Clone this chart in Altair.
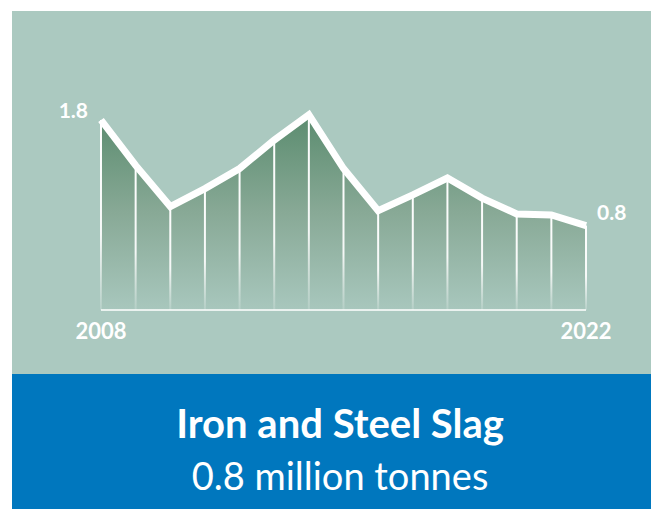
import altair as alt
import pandas as pd

# ---- data ----
years = list(range(2008, 2023))
values = [1.80, 1.37, 0.98, 1.15, 1.34, 1.61, 1.85, 1.34, 0.94, 1.09, 1.25, 1.06, 0.91, 0.90, 0.80]
title_text = "Iron and Steel Slag"
subtitle_text = "0.8 million tonnes"

SAGE = "#abc9c0"
BLUE = "#0077be"
FONT = "Lato"

df = pd.DataFrame({"year": years, "value": values})
df["label"] = df["year"].astype(str)
ends = df.iloc[[0, -1]].copy()
first = df.iloc[[0]].copy()
last = df.iloc[[-1]].copy()
base = pd.DataFrame({"x1": [years[0]], "x2": [years[-1]], "y": [0]})
one = pd.DataFrame({"k": [0]})
titles = pd.DataFrame({"t": [title_text], "s": [subtitle_text]})

W, H = 643, 501

xs = alt.Scale(domain=[years[0], years[-1]], range=[93, 578], padding=0, nice=False, zero=False)
ys = alt.Scale(domain=[0, 1.8], range=[302, 112], nice=False, zero=False, padding=0)
X = alt.X("year:Q", scale=xs, axis=None)
Y = alt.Y("value:Q", scale=ys, axis=None)

panel_top = alt.Chart(one).mark_rect(color=SAGE).encode(
    x=alt.value(4), x2=alt.value(W), y=alt.value(3), y2=alt.value(366)
)
panel_bot = alt.Chart(one).mark_rect(color=BLUE).encode(
    x=alt.value(4), x2=alt.value(W), y=alt.value(366), y2=alt.value(H)
)

area_grad = alt.Gradient(
    gradient="linear",
    stops=[alt.GradientStop(color="#5b8c6f", offset=0),
           alt.GradientStop(color="#88a996", offset=0.5),
           alt.GradientStop(color="#a8c7bd", offset=1)],
    x1=0, x2=0, y1=0, y2=1,
)
area = alt.Chart(df).mark_area(color=area_grad, interpolate="linear").encode(
    x=X, y=Y, y2=alt.datum(0)
)

white_grad = alt.Gradient(
    gradient="linear",
    stops=[alt.GradientStop(color="rgba(255,255,255,1)", offset=0),
           alt.GradientStop(color="rgba(255,255,255,0.9)", offset=0.6),
           alt.GradientStop(color="rgba(255,255,255,0.15)", offset=1)],
    x1=0, x2=0, y1=0, y2=1,
)
rules = alt.Chart(df).mark_bar(size=2, color=white_grad, orient="vertical").encode(
    x=X, y=Y, y2=alt.datum(0)
)

baseline = alt.Chart(base).mark_rule(color="white", strokeWidth=1.5).encode(
    x=alt.X("x1:Q", scale=xs, axis=None), x2="x2:Q",
    y=alt.Y("y:Q", scale=ys, axis=None)
)

line = alt.Chart(df).mark_line(
    color="white", strokeWidth=7, strokeJoin="miter", strokeCap="butt"
).encode(x=X, y=Y)

lab_first = alt.Chart(first).mark_text(
    font=FONT, fontSize=21, fontWeight="bold", color="white",
    align="right", baseline="alphabetic", dx=-13, dy=-2
).encode(x=X, y=Y, text=alt.Text("value:Q", format=".1f"))

lab_last = alt.Chart(last).mark_text(
    font=FONT, fontSize=21, fontWeight="bold", color="white",
    align="left", baseline="alphabetic", dx=11, dy=-6
).encode(x=X, y=Y, text=alt.Text("value:Q", format=".1f"))

year_labels = alt.Chart(ends).mark_text(
    font=FONT, fontSize=22, fontWeight="bold", color="white",
    align="center", baseline="alphabetic"
).encode(x=X, y=alt.value(331), text="label:N")

title = alt.Chart(titles).mark_text(
    font=FONT, fontSize=40, fontWeight="bold", color="white",
    align="center", baseline="alphabetic"
).encode(x=alt.value(332), y=alt.value(430), text="t:N")

subtitle = alt.Chart(titles).mark_text(
    font=FONT, fontSize=38, fontWeight="normal", color="white",
    align="center", baseline="alphabetic"
).encode(x=alt.value(332), y=alt.value(482), text="s:N")

chart = alt.layer(
    panel_top, panel_bot, area, rules, baseline, line,
    lab_first, lab_last, year_labels, title, subtitle
).properties(
    width=W, height=H, padding=0,
    autosize=alt.AutoSizeParams(type="none"),
    background="white",
).configure_view(stroke=None, strokeWidth=0)

chart.save("out.html", embed_options={"renderer": "svg", "actions": False})
